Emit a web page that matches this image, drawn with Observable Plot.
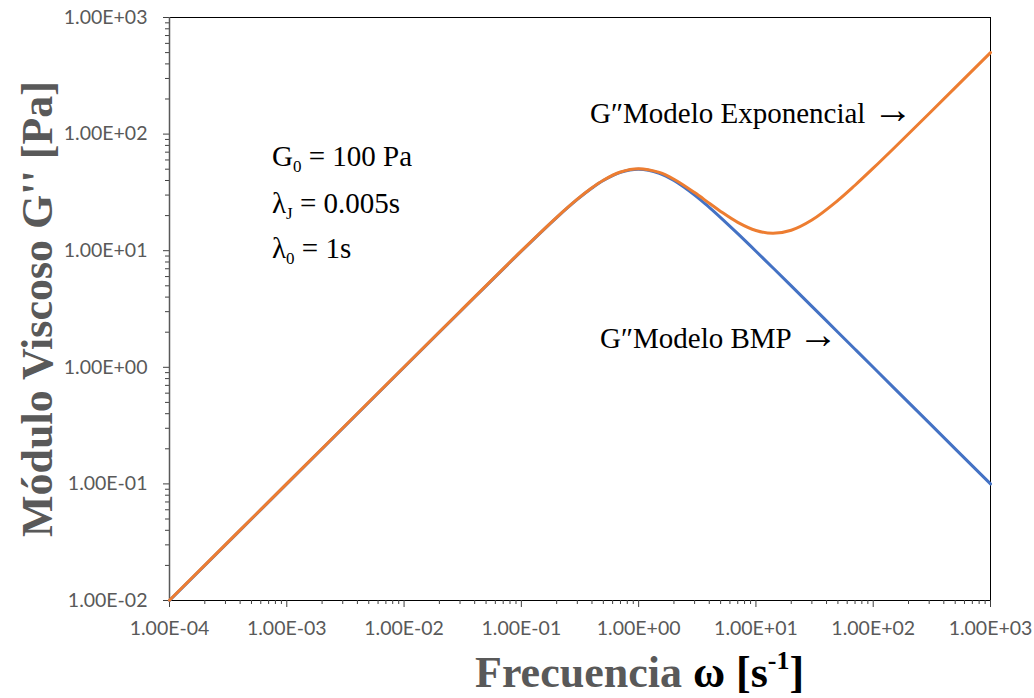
<!DOCTYPE html>
<html><head><meta charset="utf-8">
<script src="https://cdn.jsdelivr.net/npm/d3@7"></script>
<script src="https://cdn.jsdelivr.net/npm/@observablehq/plot@0.6"></script>
<style>body{margin:0;background:#fff} #chart{position:relative;width:1034px;height:698px}</style>
</head><body><div id="chart"></div>
<script>
// Frequency (s^-1)
const omega = [1e-4, 1e-3, 1e-2, 0.03, 0.1, 0.2, 0.3, 0.4, 0.5, 0.7, 1, 1.5, 2, 3, 4, 5, 7, 10, 14, 20, 30, 50, 70, 100, 150, 300, 1000];
// G'' Modelo BMP (Pa)
const gBMP = [0.01, 0.1, 1.0, 2.997, 9.901, 19.23, 27.52, 34.48, 40.0, 46.98, 50.0, 46.15, 40.0, 30.0, 23.53, 19.23, 14.0, 9.901, 7.107, 4.988, 3.330, 1.999, 1.428, 1.0, 0.6666, 0.3333, 0.1];
// G'' Modelo Exponencial (Pa)
const gExp = [0.01005, 0.1005, 1.005, 3.012, 9.951, 19.33, 27.67, 34.68, 40.25, 47.33, 50.5, 46.9, 41.0, 31.5, 25.53, 21.73, 17.5, 14.9, 14.11, 14.99, 18.33, 27.0, 36.43, 51.0, 75.67, 150.3, 500.1];
const xTicks = [1e-4, 1e-3, 1e-2, 1e-1, 1e0, 1e1, 1e2, 1e3];
const yTicks = [1e-2, 1e-1, 1e0, 1e1, 1e2, 1e3];

const fmt = d => { const e = Math.round(Math.log10(d)); return "1.00E" + (e < 0 ? "-" : "+") + String(Math.abs(e)).padStart(2, "0"); };
const minorX = d3.range(-4, 3).flatMap(e => d3.range(2, 10).map(m => m * 10 ** e));
const minorY = d3.range(-2, 3).flatMap(e => d3.range(2, 10).map(m => m * 10 ** e));

const rowsBMP = omega.map((w, i) => ({w, g: gBMP[i]}));
const rowsExp = omega.map((w, i) => ({w, g: gExp[i]}));

const plot = Plot.plot({
  width: 1034, height: 698,
  marginLeft: 169, marginRight: 44, marginTop: 17, marginBottom: 98,
  style: {fontFamily: "Lato", fontSize: "19.5px", color: "#595959", background: "#fff"},
  x: {type: "log", domain: [1e-4, 1e3]},
  y: {type: "log", domain: [1e-2, 1e3]},
  marks: [
    Plot.frame({stroke: "#000", strokeWidth: 1}),
    Plot.axisX({ticks: minorX, tickSize: 4, tickFormat: () => "", label: null, stroke: "#404040"}),
    Plot.axisX({ticks: xTicks, tickSize: 7, tickPadding: 14, tickFormat: fmt, label: null, stroke: "#404040", fill: "#595959"}),
    Plot.axisY({ticks: minorY, tickSize: 4, tickFormat: () => "", label: null, stroke: "#404040"}),
    Plot.axisY({ticks: yTicks, tickSize: 6, tickPadding: 16, tickFormat: fmt, label: null, stroke: "#404040", fill: "#595959"}),
    Plot.ruleX([1e-4], {stroke: "#595959", strokeWidth: 1.5}),
    Plot.line(rowsBMP, {x: "w", y: "g", stroke: "#4472C4", strokeWidth: 3, curve: "catmull-rom"}),
    Plot.line(rowsExp, {x: "w", y: "g", stroke: "#ED7D31", strokeWidth: 3, curve: "catmull-rom"})
  ]
});
document.getElementById("chart").appendChild(plot);

const svg = d3.select(plot);
const serif = "'Liberation Serif', 'Times New Roman', serif";

// Axis titles
const xt = svg.append("text").attr("x", 475).attr("y", 687).attr("text-anchor", "start")
  .attr("font-family", serif).attr("font-weight", "bold").attr("font-size", 44).attr("fill", "#595959");
xt.append("tspan").text("Frecuencia ");
xt.append("tspan").attr("fill", "#000").text("ω [s");
xt.append("tspan").attr("fill", "#000").attr("font-size", 26).attr("dy", -18).text("-1");
xt.append("tspan").attr("fill", "#000").attr("dy", 18).text("]");

svg.append("text").attr("transform", "translate(52,309) rotate(-90)").attr("text-anchor", "middle")
  .attr("font-family", serif).attr("font-weight", "bold").attr("font-size", 44).attr("fill", "#595959")
  .text("Módulo Viscoso G'' [Pa]");

// Annotations
function ann(x, y, parts) {
  const t = svg.append("text").attr("x", x).attr("y", y).attr("text-anchor", "start")
    .attr("font-family", serif).attr("font-size", 29).attr("fill", "#000");
  let dy = 0;
  for (const [s, kind] of parts) {
    const want = kind === "sub" ? 6 : 0;
    const sp = t.append("tspan").attr("dy", want - dy).text(s);
    if (kind === "sub") sp.attr("font-size", 17);
    if (kind === "arrow") sp.attr("font-size", 40);
    dy = want;
  }
}
ann(272, 166, [["G"], ["0", "sub"], [" = 100 Pa"]]);
ann(272, 213, [["λ"], ["J", "sub"], [" = 0.005s"]]);
ann(272, 258, [["λ"], ["0", "sub"], [" = 1s"]]);
ann(590, 123, [["G″Modelo Exponencial "], ["→", "arrow"]]);
ann(600, 348, [["G″Modelo BMP "], ["→", "arrow"]]);
</script></body></html>
